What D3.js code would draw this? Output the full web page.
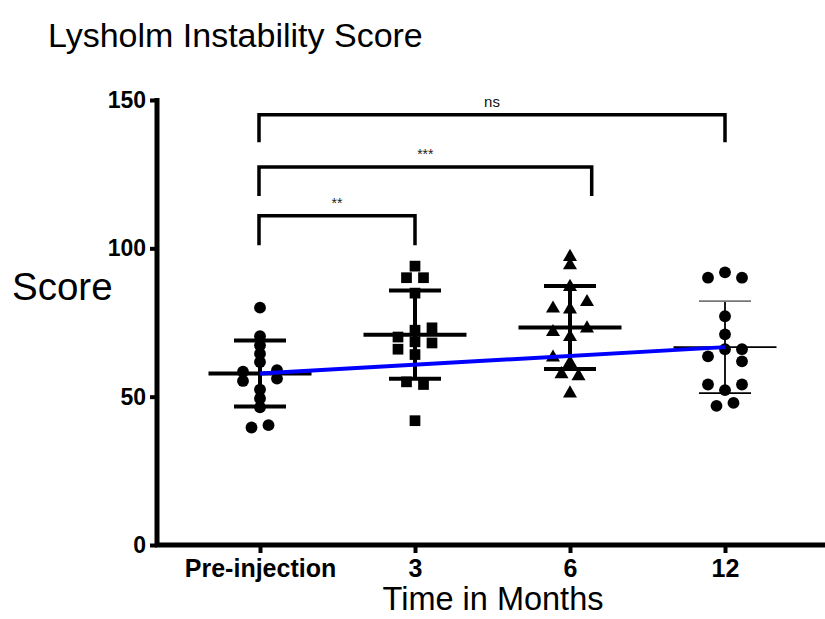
<!DOCTYPE html>
<html><head><meta charset="utf-8">
<script src="https://cdn.jsdelivr.net/npm/d3@7"></script>
<style>body{margin:0;background:#fff}svg{display:block}text{font-family:"Liberation Sans",Arial,sans-serif}</style>
</head><body>
<script>
const categories = ["Pre-injection", "3", "6", "12"];
const shapes = ["circle", "square", "triangle", "circle"];
const preValues = [80.0, 70.4, 67.3, 64.5, 61.7, 58.4, 58.9, 55.3, 56.1, 52.4, 49.4, 46.4, 39.6, 40.4];
const preSlots  = [0, 0, 0, 0, 0, -2, 2, -2, 2, 0, 0, 0, -1, 1];
const m3Values  = [94.0, 90.1, 90.1, 84.9, 72.4, 70.1, 73.2, 68.5, 68.1, 66.0, 64.2, 55.0, 54.1, 41.9];
const m3Slots   = [0, -1, 1, 0, 0, -2, 2, 0, 2, -2, 0, -1, 1, 0];
const m6Values  = [97.1, 94.3, 87.0, 79.7, 81.9, 79.4, 71.8, 73.0, 70.1, 63.2, 61.4, 57.6, 56.9, 51.1];
const m6Slots   = [0, 0, 0, -2, 2, 0, -2, 2, 0, -2, 0, -1, 1, 0];
const m12Values = [90.1, 91.9, 90.1, 77.1, 71.0, 66.0, 66.0, 63.6, 61.9, 54.1, 54.1, 52.2, 46.9, 47.9];
const m12Slots  = [-2, 0, 2, 0, 0, 0, 2, -2, 2, -2, 2, 0, -1, 1];
const means = [57.8, 70.9, 73.3, 66.7];
const sds   = [11.1, 14.9, 14.0, 15.5];
const yTicks = [0, 50, 100, 150];
const bracketFrom  = [0, 0, 0];
const bracketTo    = [1, 2.14, 3];
const bracketTop   = [111, 127.4, 145];
const bracketLeg   = [101, 117.6, 135.8];
const bracketLabel = ["**", "***", "ns"];

const seriesValues = [preValues, m3Values, m6Values, m12Values];
const seriesSlots = [preSlots, m3Slots, m6Slots, m12Slots];

const W = 825, H = 619;
const svg = d3.select("body").append("svg").attr("width", W).attr("height", H);

const x = d3.scaleLinear().domain([0, 3]).range([260, 725]);
const y = d3.scaleLinear().domain([0, 150]).range([545, 100]);
const slotW = 8.5;

// Title & labels
svg.append("text").attr("x", 48).attr("y", 47).attr("font-size", 34).text("Lysholm Instability Score");
svg.append("text").attr("x", 12).attr("y", 300).attr("font-size", 38.5).text("Score");
svg.append("text").attr("x", 493).attr("y", 610).attr("text-anchor", "middle").attr("font-size", 32.5).text("Time in Months");

// Y axis
const yAxis = svg.append("g").attr("transform", "translate(157,0)")
  .call(d3.axisLeft(y).tickValues(yTicks).tickSize(7).tickPadding(4).tickFormat(d3.format("d")));
yAxis.select(".domain").attr("d", `M0,${y(150) - 2}V${y(0) + 2}`).attr("stroke", "#000").attr("stroke-width", 5);
yAxis.selectAll(".tick line").attr("stroke", "#000").attr("stroke-width", 4);
yAxis.selectAll(".tick text").attr("font-size", 23).attr("font-weight", "bold").attr("fill", "#000")
  .attr("font-family", '"Liberation Sans",Arial,sans-serif');

// X axis
const xAxis = svg.append("g").attr("transform", `translate(0,${y(0)})`)
  .call(d3.axisBottom(x).tickValues([0, 1, 2, 3]).tickSize(8).tickPadding(6).tickFormat(i => categories[i]));
xAxis.select(".domain").attr("d", `M155,0H825`).attr("stroke", "#000").attr("stroke-width", 5);
xAxis.selectAll(".tick line").attr("stroke", "#000").attr("stroke-width", 4);
xAxis.selectAll(".tick text").attr("font-size", 25).attr("font-weight", "bold").attr("fill", "#000")
  .attr("font-family", '"Liberation Sans",Arial,sans-serif');

// Brackets
bracketLabel.forEach((lab, i) => {
  const x0 = x(bracketFrom[i]) - 1, x1 = x(bracketTo[i]);
  svg.append("path")
    .attr("d", `M${x0},${y(bracketLeg[i])}V${y(bracketTop[i])}H${x1}V${y(bracketLeg[i])}`)
    .attr("fill", "none").attr("stroke", "#000").attr("stroke-width", 3.5);
  svg.append("text").attr("x", (x0 + x1) / 2).attr("y", y(bracketTop[i]) - 8)
    .attr("text-anchor", "middle").attr("font-size", lab === "ns" ? 15 : 14)
    .attr("fill", lab === "ns" ? "#111" : "#222").text(lab);
});

// Error bars (mean ± SD)
means.forEach((m, i) => {
  const cx = x(i);
  const thin = i === 3;
  const sw = thin ? 1.8 : 4;
  const g = svg.append("g").attr("stroke", "#000");
  g.append("line").attr("x1", cx).attr("x2", cx).attr("y1", y(m + sds[i])).attr("y2", y(m - sds[i])).attr("stroke-width", sw);
  g.append("line").attr("x1", cx - 51.5).attr("x2", cx + 51.5).attr("y1", y(m)).attr("y2", y(m)).attr("stroke-width", sw);
  g.append("line").attr("x1", cx - 26).attr("x2", cx + 26).attr("y1", y(m + sds[i])).attr("y2", y(m + sds[i]))
    .attr("stroke-width", sw).attr("stroke", thin ? "#777" : "#000");
  g.append("line").attr("x1", cx - 26).attr("x2", cx + 26).attr("y1", y(m - sds[i])).attr("y2", y(m - sds[i])).attr("stroke-width", sw);
});

// Points
const symMap = { circle: d3.symbolCircle, square: d3.symbolSquare, triangle: d3.symbolTriangle };
const symSize = { circle: 110, square: 115, triangle: 85 };
seriesValues.forEach((vals, i) => {
  const sym = d3.symbol().type(symMap[shapes[i]]).size(symSize[shapes[i]]);
  svg.append("g").selectAll("path").data(vals).join("path")
    .attr("d", sym)
    .attr("transform", (v, j) => `translate(${x(i) + seriesSlots[i][j] * slotW},${y(v)})`)
    .attr("fill", "#000");
});

// Trend line between first and last means
svg.append("line")
  .attr("x1", x(0)).attr("y1", y(means[0]))
  .attr("x2", x(3)).attr("y2", y(means[3]))
  .attr("stroke", "#0000ff").attr("stroke-width", 4);
</script>
</body></html>
